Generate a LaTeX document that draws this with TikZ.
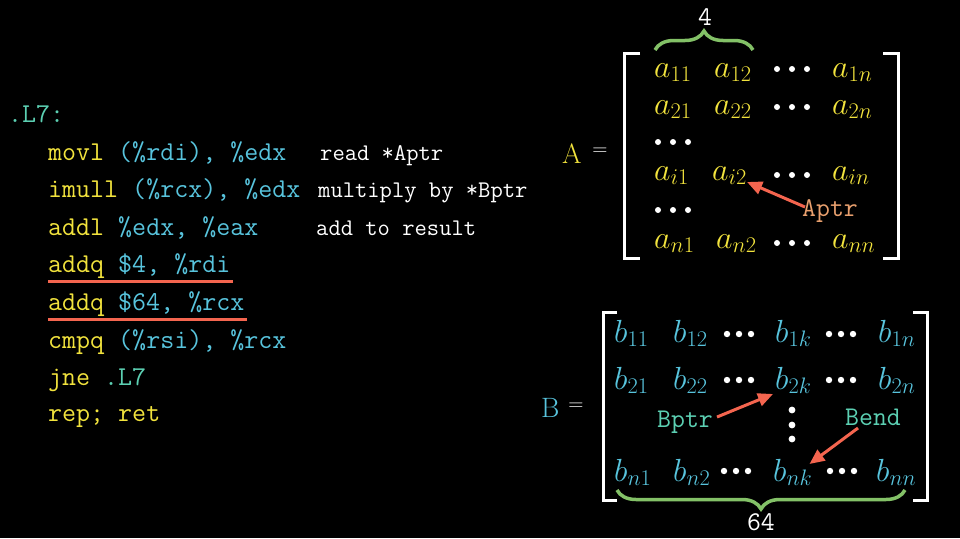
\RequirePackage{fix-cm}
\documentclass[tikz,border=0pt]{standalone}
\usetikzlibrary{arrows.meta,decorations.pathreplacing}
\definecolor{ayellow}{HTML}{F2E33D}
\definecolor{bblue}{HTML}{58C4DD}
\definecolor{tealc}{HTML}{5CD0B3}
\definecolor{redc}{HTML}{F4654F}
\definecolor{greenc}{HTML}{83C167}
\definecolor{aptrc}{HTML}{E9A06E}
\begin{document}
\begin{tikzpicture}[x=1pt,y=-1pt,
  code/.style={anchor=base west, inner sep=0, font=\fontsize{27.2}{30}\selectfont\ttfamily},
  cmt/.style={anchor=base west, inner sep=0, text=white, font=\fontsize{23.9}{26}\selectfont\ttfamily},
  aent/.style={anchor=base west, inner sep=0, text=ayellow, font=\fontsize{32}{34}\selectfont},
  bent/.style={anchor=base west, inner sep=0, text=bblue, font=\fontsize{32}{34}\selectfont},
  lbl/.style={inner sep=0, font=\fontsize{27}{30}\selectfont\ttfamily},
  mname/.style={anchor=base west, inner sep=0, font=\fontsize{28}{30}\selectfont},
  eqs/.style={inner sep=0, text=white, font=\fontsize{21}{23}\selectfont},
  ptr/.style={draw=redc, line width=3pt, -{Triangle[length=15pt,width=13pt]}},
  redline/.style={draw=redc, line width=3pt},
  brk/.style={draw=white, line width=3pt},
  brc/.style={draw=greenc, line width=3.5pt, decorate, decoration={brace, amplitude=19pt}},
  dotc/.style={fill=white}]
\fill[black] (0,0) rectangle (960,538);
\useasboundingbox (0,0) rectangle (960,538);

% ---------- code ----------
\node[code] (lab) at (8,122) {\color{tealc}.L7:};
\node[code] (l1) at (48,160) {\color{ayellow}movl \color{bblue}(\%rdi), \%edx};
\node[code] (l2) at (48,197) {\color{ayellow}imull \color{bblue}(\%rcx), \%edx};
\node[code] (l3) at (48,235) {\color{ayellow}addl \color{bblue}\%edx, \%eax};
\node[code] (l4) at (48,272) {\color{ayellow}addq \color{bblue}\$4, \%rdi};
\node[code] (l5) at (48,310) {\color{ayellow}addq \color{bblue}\$64, \%rcx};
\node[code] (l6) at (48,348) {\color{ayellow}cmpq \color{bblue}(\%rsi), \%rcx};
\node[code] (l7) at (48,385) {\color{ayellow}jne \color{tealc}.L7};
\node[code] (l8) at (48,421) {\color{ayellow}rep; ret};

\node[cmt] (c1) at (320,160) {read *Aptr};
\node[cmt] (c2) at (318,197) {multiply by *Bptr};
\node[cmt] (c3) at (316,235) {add to result};

\draw[redline] ([yshift=-9pt]l4.base west) -- ([xshift=2pt,yshift=-9pt]l4.base east);
\draw[redline] ([yshift=-9pt]l5.base west) -- ([xshift=3pt,yshift=-9pt]l5.base east);

% ---------- matrix A ----------
\node[mname, text=ayellow] (Aname) at (562,163) {A};
\node[eqs] (Aeq) at (600,152) {=};
\draw[brk] (640,53) -- (624,53) -- (624,258) -- (640,258);
\draw[brk] (883,53) -- (898,53) -- (898,258) -- (883,258);

\node[aent] (a11) at (654,77) {$a_{11}$};
\node[aent] (a12) at (714,77) {$a_{12}$};
\node[aent] (a1n) at (832,77) {$a_{1n}$};
\node[aent] (a21) at (654,114) {$a_{21}$};
\node[aent] (a22) at (714,114) {$a_{22}$};
\node[aent] (a2n) at (832,114) {$a_{2n}$};
\node[aent] (ai1) at (654,180) {$a_{i1}$};
\node[aent] (ai2) at (712,180) {$a_{i2}$};
\node[aent] (ain) at (832,180) {$a_{in}$};
\node[aent] (an1) at (654,248) {$a_{n1}$};
\node[aent] (an2) at (716,248) {$a_{n2}$};
\node[aent] (ann) at (832,248) {$a_{nn}$};

\foreach \y in {69,107,175,243} {
  \foreach \x in {777,792,807} \fill[dotc] (\x,\y) circle (3);
}
\foreach \y in {142,210} {
  \foreach \x in {658,673,688} \fill[dotc] (\x,\y) circle (3);
}

\draw[brc] (655,50) -- (753,50);
\node[lbl, anchor=base, text=white] (four) at (705,25) {4};

\node[lbl, anchor=base west, text=aptrc] (aptr) at (802,216) {Aptr};
\draw[ptr] ([xshift=3pt,yshift=9pt]aptr.base west) -- ([yshift=-2pt]ai2.base east);

% ---------- matrix B ----------
\node[mname, text=bblue] (Bname) at (541,417) {B};
\node[eqs] (Beq) at (576,407) {=};
\draw[brk] (617,312) -- (603,312) -- (603,500) -- (617,500);
\draw[brk] (913,312) -- (927,312) -- (927,500) -- (913,500);

\node[bent] (b11) at (614,342) {$b_{11}$};
\node[bent] (b12) at (673,342) {$b_{12}$};
\node[bent] (b1k) at (775,342) {$b_{1k}$};
\node[bent] (b1n) at (878,342) {$b_{1n}$};
\node[bent] (b21) at (614,389) {$b_{21}$};
\node[bent] (b22) at (673,389) {$b_{22}$};
\node[bent] (b2k) at (775,389) {$b_{2k}$};
\node[bent] (b2n) at (878,389) {$b_{2n}$};
\node[bent] (bn1) at (614,481) {$b_{n1}$};
\node[bent] (bn2) at (673,481) {$b_{n2}$};
\node[bent] (bnk) at (773,481) {$b_{nk}$};
\node[bent] (bnn) at (876,481) {$b_{nn}$};

\foreach \y in {334,380} {
  \foreach \x in {727,739,751,829,841,853} \fill[dotc] (\x,\y) circle (3.2);
}
\foreach \x in {724,736,748,830,842,854} \fill[dotc] (\x,471) circle (3.2);
\foreach \y in {410,425,439} \fill[dotc] (792,\y) circle (3.4);

\draw[brc] (905,490) -- (617,490);
\node[lbl, anchor=base, text=white] (sixtyfour) at (761,530) {64};

\node[lbl, anchor=base west, text=tealc] (bptr) at (657,427) {Bptr};
\node[lbl, anchor=base west, text=tealc] (bend) at (845,425) {Bend};
\draw[ptr] ([xshift=4pt,yshift=10pt]bptr.base east) -- ([xshift=-2pt,yshift=-5pt]b2k.base west);
\draw[ptr] ([xshift=13pt,yshift=-3pt]bend.base west) -- ([xshift=-3pt,yshift=17pt]bnk.base east);
\end{tikzpicture}
\end{document}
